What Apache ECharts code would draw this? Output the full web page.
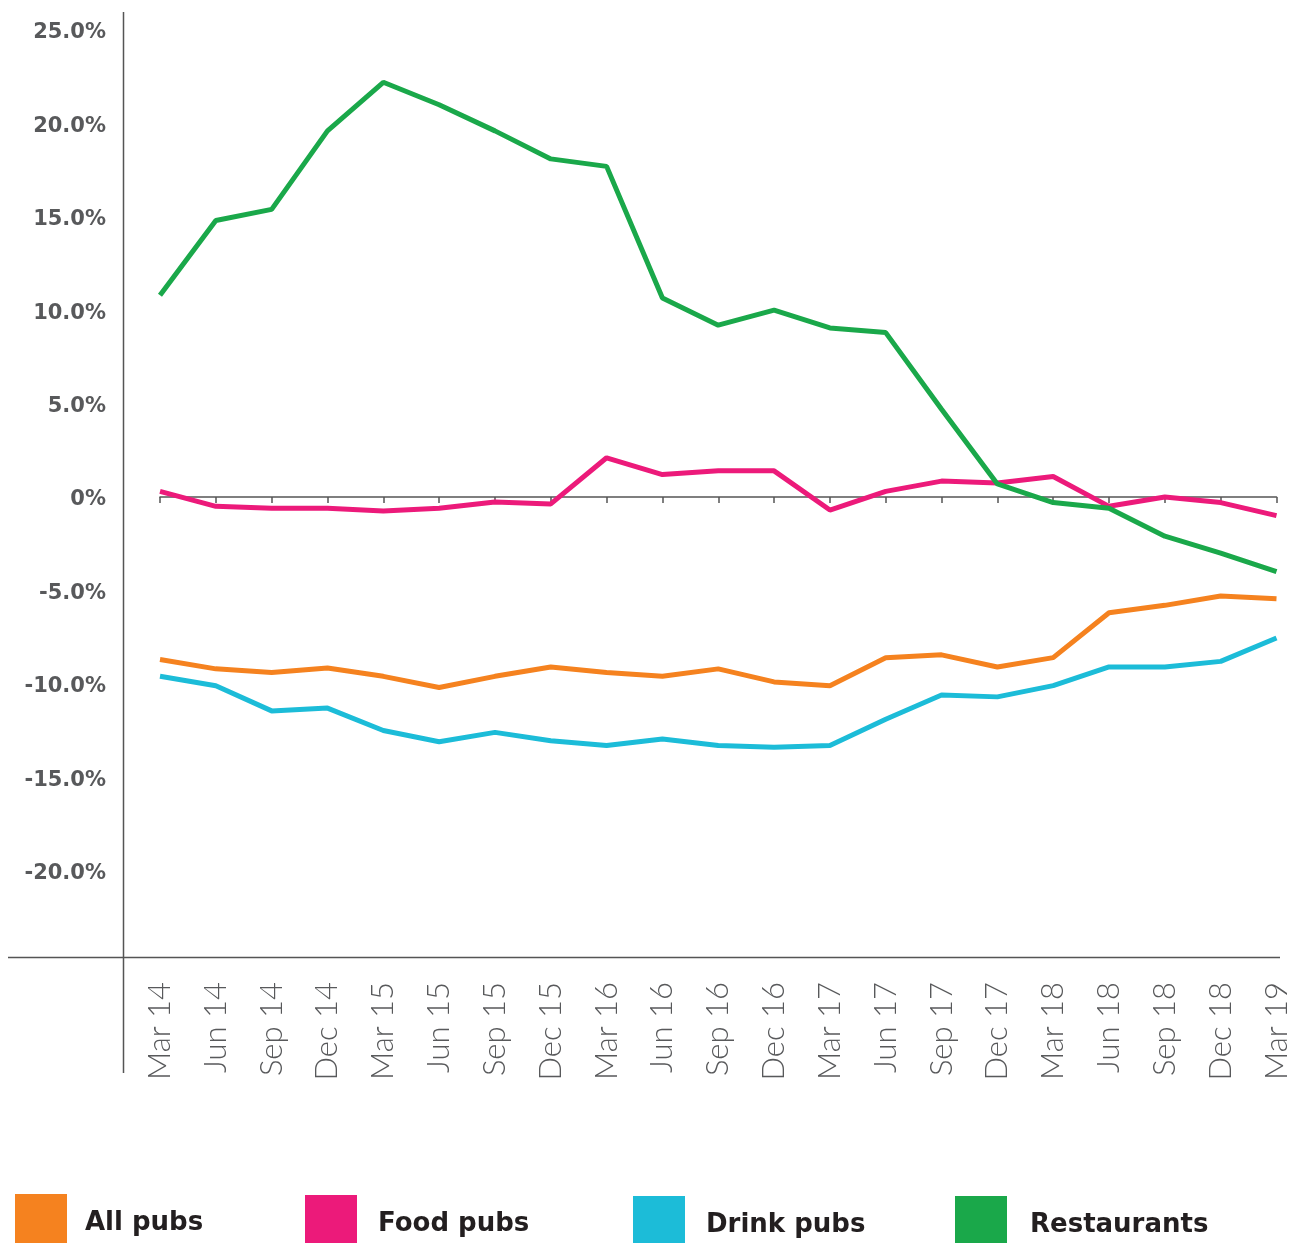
<!DOCTYPE html>
<html>
<head>
<meta charset="utf-8">
<script src="https://cdn.jsdelivr.net/npm/echarts@6/dist/echarts.min.js"></script>
<style>
html,body{margin:0;padding:0;background:#fff;}
#chart{width:1292px;height:1243px;}
</style>
</head>
<body>
<div id="chart"></div>
<script>
var categories = ['Mar 14','Jun 14','Sep 14','Dec 14','Mar 15','Jun 15','Sep 15','Dec 15','Mar 16','Jun 16','Sep 16','Dec 16','Mar 17','Jun 17','Sep 17','Dec 17','Mar 18','Jun 18','Sep 18','Dec 18','Mar 19'];
var allPubs = [-8.7,-9.2,-9.4,-9.15,-9.6,-10.2,-9.6,-9.1,-9.4,-9.6,-9.2,-9.9,-10.1,-8.6,-8.45,-9.1,-8.6,-6.2,-5.8,-5.3,-5.45];
var foodPubs = [0.3,-0.5,-0.6,-0.6,-0.75,-0.6,-0.27,-0.37,2.1,1.2,1.4,1.4,-0.7,0.3,0.85,0.75,1.1,-0.5,0.0,-0.3,-1.0];
var drinkPubs = [-9.6,-10.1,-11.45,-11.3,-12.5,-13.1,-12.6,-13.05,-13.3,-12.95,-13.3,-13.4,-13.3,-11.9,-10.6,-10.7,-10.1,-9.1,-9.1,-8.8,-7.55];
var restaurants = [10.8,14.8,15.4,19.6,22.2,21.0,19.6,18.1,17.7,10.65,9.2,10.0,9.05,8.8,4.7,0.7,-0.3,-0.6,-2.1,-3.0,-4.0];
var yTicks = {min:-25, max:25, interval:5};

var colors = {all:'#F5821F', food:'#EC1A7A', drink:'#1CBCD8', rest:'#1AA84A'};

var chart = echarts.init(document.getElementById('chart'), null, {renderer:'canvas'});

function legendFor(name, left, top, padLeft){
  return {
    data:[{name:name, icon:'rect'}],
    left:left, top:top, orient:'horizontal', padding:0,
    itemWidth:52, itemHeight:50,
    selectedMode:false,
    formatter:function(n){ return '{t|' + n + '}'; },
    textStyle:{
      rich:{t:{fontFamily:'DejaVu Sans', fontWeight:'bold', fontSize:26, color:'#231F20', padding:[8,0,0,padLeft]}}
    }
  };
}

var option = {
  backgroundColor:'#fff',
  animation:false,
  grid:{left:160, right:12, top:30, bottom:279, containLabel:false},
  legend:[
    legendFor('All pubs', 15, 1194, 13),
    legendFor('Food pubs', 305, 1195, 16),
    legendFor('Drink pubs', 633, 1196, 16),
    legendFor('Restaurants', 955, 1196, 18)
  ],
  xAxis:[
    {
      type:'category', data:categories, boundaryGap:false,
      axisLine:{onZero:true, lineStyle:{color:'#555', width:1.5}},
      axisTick:{show:true, length:6, lineStyle:{color:'#555', width:1.5}},
      axisLabel:{show:false},
      splitLine:{show:false}
    },
    {
      type:'category', data:categories, boundaryGap:false, position:'bottom',
      axisLine:{show:false, onZero:false},
      axisTick:{show:false},
      axisLabel:{show:true, rotate:90, margin:18, fontFamily:'Lato', fontWeight:300, fontSize:31, color:'#58595B', interval:0},
      splitLine:{show:false}
    }
  ],
  yAxis:{
    type:'value', min:yTicks.min, max:yTicks.max, interval:yTicks.interval,
    offset:37,
    axisLine:{show:false},
    axisTick:{show:false},
    splitLine:{show:false},
    axisLabel:{
      margin:17,
      formatter:function(v){ if (v === yTicks.min) return ''; return '{t|' + (v === 0 ? '0%' : v.toFixed(1) + '%') + '}'; },
      rich:{t:{fontFamily:'DejaVu Sans', fontWeight:'bold', fontSize:21, color:'#58595B', padding:[6,0,0,0]}}
    }
  },
  graphic:[
    {type:'line', shape:{x1:123.5, y1:12, x2:123.5, y2:1073}, style:{stroke:'#555', lineWidth:1.5}, silent:true},
    {type:'line', shape:{x1:8, y1:957.5, x2:1280, y2:957.5}, style:{stroke:'#555', lineWidth:1.5}, silent:true}
  ],
  series:[
    {name:'All pubs', type:'line', data:allPubs, color:colors.all, symbol:'none', lineStyle:{width:5, color:colors.all}, z:2},
    {name:'Food pubs', type:'line', data:foodPubs, color:colors.food, symbol:'none', lineStyle:{width:5, color:colors.food}, z:3},
    {name:'Drink pubs', type:'line', data:drinkPubs, color:colors.drink, symbol:'none', lineStyle:{width:5, color:colors.drink}, z:2},
    {name:'Restaurants', type:'line', data:restaurants, color:colors.rest, symbol:'none', lineStyle:{width:5, color:colors.rest}, z:4}
  ]
};
chart.setOption(option);
</script>
</body>
</html>
